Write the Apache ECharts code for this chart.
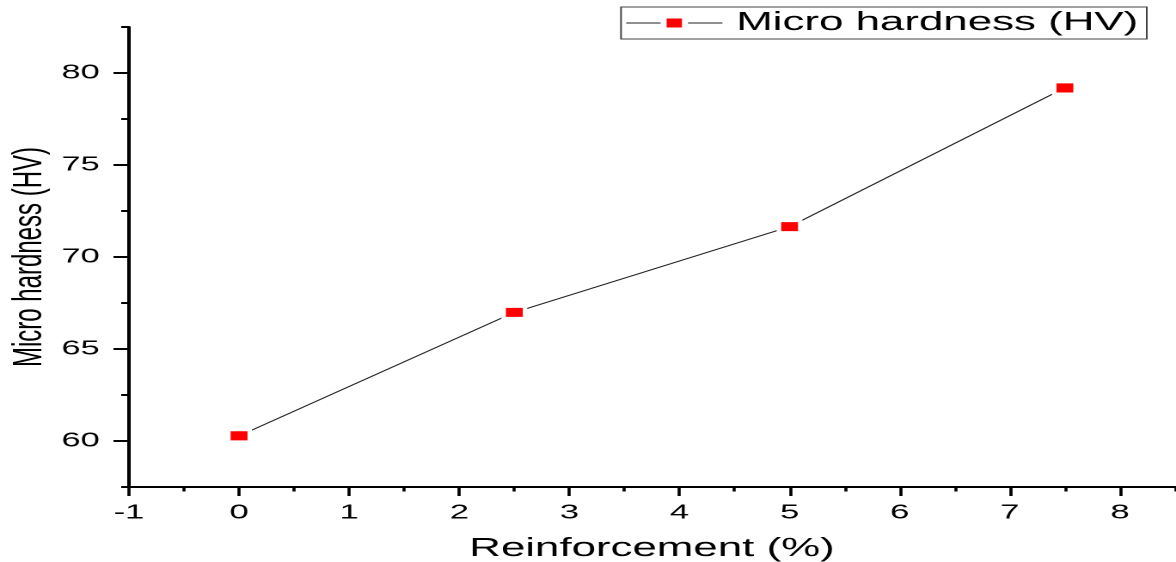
<!DOCTYPE html>
<html><head><meta charset="utf-8">
<script src="https://cdn.jsdelivr.net/npm/echarts@6/dist/echarts.min.js"></script>
<style>
html,body{margin:0;padding:0;overflow:hidden;background:#fff;width:1176px;height:562px}
#chart{width:684px;height:562px;transform:scaleX(1.719298);transform-origin:0 0;}
</style></head><body><div id="chart"></div>
<script>
const seriesName = 'Micro hardness (HV)';
const xTitle = 'Reinforcement (%)';
const yTitle = 'Micro hardness (HV)';
const reinforcement = [0, 2.5, 5, 7.5];
const hardness = [60.28, 66.99, 71.65, 79.19];
const xMajorTicks = [-1, 0, 1, 2, 3, 4, 5, 6, 7, 8];
const xMinorTicks = [-0.5, 0.5, 1.5, 2.5, 3.5, 4.5, 5.5, 6.5, 7.5, 8.5];
const yMajorTicks = [60, 65, 70, 75, 80];
const yMinorTicks = [57.5, 62.5, 67.5, 72.5, 77.5, 82.5];

const font = 'Liberation Sans, Arial, sans-serif';
const chart = echarts.init(document.getElementById('chart'), null, {devicePixelRatio: 2});
const xBase = {type: 'value', min: -1, max: 8.5, gridIndex: 0, splitLine: {show: false}};
const yBase = {type: 'value', min: 57.5, max: 82.5, gridIndex: 0, splitLine: {show: false}};
chart.setOption({
  animation: false,
  backgroundColor: '#fff',
  grid: {left: 75, top: 27, width: 608.4, height: 460, containLabel: false, outerBoundsMode: 'none'},
  legend: {
    right: 17, top: 7,
    padding: [3, 5, 3, 2.5],
    borderColor: '#444', borderWidth: 1,
    itemWidth: 56, itemHeight: 15.5,
    itemStyle: {color: '#ff0000', borderColor: '#fff', borderWidth: 3.5},
    lineStyle: {color: '#222', width: 1},
    textStyle: {fontFamily: font, fontSize: 25.5, color: '#000', padding: [0, 0, 0, 3]},
    data: [seriesName]
  },
  xAxis: [
    Object.assign({}, xBase, {
      position: 'bottom',
      name: xTitle, nameLocation: 'middle', nameGap: 49, nameMoveOverlap: false,
      nameTextStyle: {fontFamily: font, fontSize: 25.5, color: '#000'},
      axisLine: {show: true, onZero: false, lineStyle: {color: '#000', width: 2}},
      axisTick: {show: true, inside: false, length: 9, customValues: xMajorTicks, lineStyle: {color: '#000', width: 1.8}},
      axisLabel: {show: true, margin: 16, customValues: xMajorTicks, fontFamily: font, fontSize: 20, color: '#000'}
    }),
    Object.assign({}, xBase, {
      position: 'bottom',
      axisLine: {show: false, onZero: false},
      axisTick: {show: true, inside: false, length: 4.5, customValues: xMinorTicks, lineStyle: {color: '#000', width: 1.8}},
      axisLabel: {show: false}
    })
  ],
  yAxis: [
    Object.assign({}, yBase, {
      position: 'left',
      name: yTitle, nameLocation: 'middle', nameGap: 45.5, nameMoveOverlap: false,
      nameTextStyle: {fontFamily: font, fontSize: 24, color: '#000'},
      axisLine: {show: true, onZero: false, lineStyle: {color: '#000', width: 2}},
      axisTick: {show: true, inside: false, length: 9, customValues: yMajorTicks, lineStyle: {color: '#000', width: 2}},
      axisLabel: {show: true, margin: 17, customValues: yMajorTicks, fontFamily: font, fontSize: 20, color: '#000'}
    }),
    Object.assign({}, yBase, {
      position: 'left',
      axisLine: {show: false, onZero: false},
      axisTick: {show: true, inside: false, length: 4.5, customValues: yMinorTicks, lineStyle: {color: '#000', width: 2}},
      axisLabel: {show: false}
    })
  ],
  series: [{
    name: seriesName,
    type: 'line',
    xAxisIndex: 0, yAxisIndex: 0,
    data: reinforcement.map((x, i) => [x, hardness[i]]),
    symbol: 'rect',
    symbolSize: [12.4, 11.5],
    itemStyle: {color: '#ff0000', borderColor: '#fff', borderWidth: 2.5},
    lineStyle: {color: '#222', width: 1},
    emphasis: {disabled: true},
    z: 3
  }]
});
</script></body></html>
